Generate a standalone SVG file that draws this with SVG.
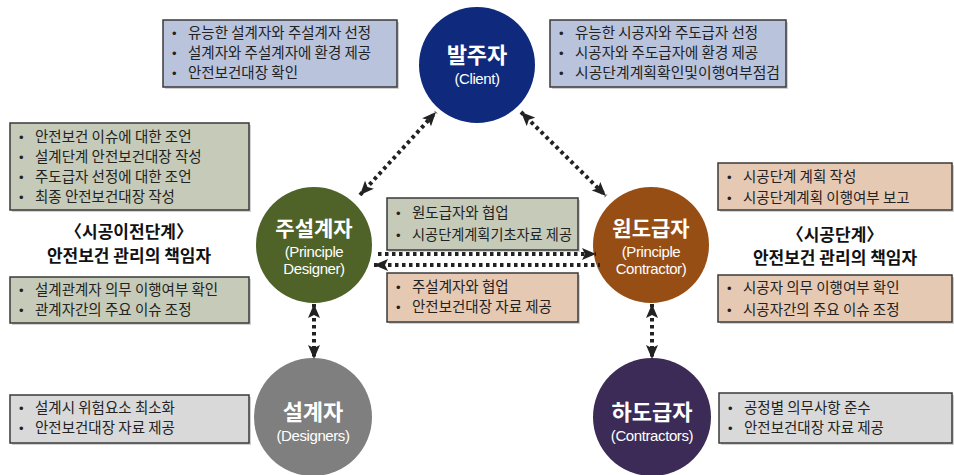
<svg xmlns="http://www.w3.org/2000/svg" width="954" height="475" viewBox="0 0 954 475">
<defs>
<style>
.box{stroke:#3a3a3a;stroke-width:1.5}
.sh{fill:#9a9a9a;opacity:0.45}
.blue{fill:#b9c3dc}
.green{fill:#c5cbb8}
.tan{fill:#e6c9b3}
.gray{fill:#d9d9d9}
.t{font-family:"Noto Sans CJK KR","Noto Sans",sans-serif;font-size:14.5px;fill:#222}
.bul{font-family:"Liberation Sans",sans-serif;font-size:13px;fill:#222}
.h{font-family:"Noto Sans CJK KR","Noto Sans",sans-serif;font-size:17px;font-weight:bold;fill:#111;text-anchor:middle}
.ck{font-family:"Noto Sans CJK KR","Noto Sans",sans-serif;font-size:22px;font-weight:bold;fill:#fff;text-anchor:middle}
.ck2{font-family:"Noto Sans CJK KR","Noto Sans",sans-serif;font-size:21px;font-weight:bold;fill:#fff;text-anchor:middle}
.ce{font-family:"Liberation Sans","Arial",sans-serif;font-size:15px;fill:#fff;text-anchor:middle;letter-spacing:-0.4px}
.con{fill:none;stroke:#222;stroke-width:4;stroke-dasharray:3.5 3.5}
</style>
<marker id="ah" viewBox="0 0 14 12" refX="14" refY="6" markerWidth="14" markerHeight="12" markerUnits="userSpaceOnUse" orient="auto-start-reverse">
<path d="M0,0 L14,6 L0,12 L3,6 Z" fill="#222"/>
</marker>
</defs>

<!-- boxes -->
<g id="box-client-left">
<rect class="sh" x="165" y="22" width="234" height="67"/>
<rect class="box blue" x="163" y="20" width="234" height="67"/>
<text class="bul" x="172" y="38">•</text><text class="t" x="188" y="38">유능한 설계자와 주설계자 선정</text>
<text class="bul" x="172" y="58">•</text><text class="t" x="188" y="58">설계자와 주설계자에 환경 제공</text>
<text class="bul" x="172" y="78">•</text><text class="t" x="188" y="78">안전보건대장 확인</text>
</g>
<g id="box-client-right">
<rect class="sh" x="552" y="22" width="236" height="67"/>
<rect class="box blue" x="550" y="20" width="236" height="67"/>
<text class="bul" x="559" y="38">•</text><text class="t" x="575" y="38">유능한 시공자와 주도급자 선정</text>
<text class="bul" x="559" y="58">•</text><text class="t" x="575" y="58">시공자와 주도급자에 환경 제공</text>
<text class="bul" x="559" y="78">•</text><text class="t" x="575" y="78" textLength="205" lengthAdjust="spacingAndGlyphs">시공단계계획확인및이행여부점검</text>
</g>
<g id="box-pd-top">
<rect class="sh" x="12" y="125" width="239" height="87"/>
<rect class="box green" x="10" y="123" width="239" height="87"/>
<text class="bul" x="19" y="142">•</text><text class="t" x="35" y="142">안전보건 이슈에 대한 조언</text>
<text class="bul" x="19" y="162">•</text><text class="t" x="35" y="162">설계단계 안전보건대장 작성</text>
<text class="bul" x="19" y="182">•</text><text class="t" x="35" y="182">주도급자 선정에 대한 조언</text>
<text class="bul" x="19" y="202">•</text><text class="t" x="35" y="202">최종 안전보건대장 작성</text>
</g>
<g id="heading-left">
<text class="h" x="129" y="238">〈시공이전단계〉</text>
<text class="h" x="129" y="262">안전보건 관리의 책임자</text>
</g>
<g id="box-pd-bottom">
<rect class="sh" x="12" y="279" width="239" height="46"/>
<rect class="box green" x="10" y="277" width="239" height="46"/>
<text class="bul" x="19" y="295">•</text><text class="t" x="35" y="295">설계관계자 의무 이행여부 확인</text>
<text class="bul" x="19" y="315">•</text><text class="t" x="35" y="315">관계자간의 주요 이슈 조정</text>
</g>
<g id="box-mid-top">
<rect class="sh" x="389" y="200" width="191" height="52"/>
<rect class="box green" x="387" y="198" width="191" height="52"/>
<text class="bul" x="396" y="218">•</text><text class="t" x="412" y="218">원도급자와 협업</text>
<text class="bul" x="396" y="240">•</text><text class="t" x="412" y="240" textLength="160" lengthAdjust="spacingAndGlyphs">시공단계계획기초자료 제공</text>
</g>
<g id="box-mid-bottom">
<rect class="sh" x="389" y="275" width="191" height="49"/>
<rect class="box tan" x="387" y="273" width="191" height="49"/>
<text class="bul" x="396" y="292">•</text><text class="t" x="412" y="292">주설계자와 협업</text>
<text class="bul" x="396" y="312">•</text><text class="t" x="412" y="312">안전보건대장 자료 제공</text>
</g>
<g id="box-pc-top">
<rect class="sh" x="720" y="165" width="234" height="47"/>
<rect class="box tan" x="718" y="163" width="234" height="47"/>
<text class="bul" x="727" y="182">•</text><text class="t" x="743" y="182">시공단계 계획 작성</text>
<text class="bul" x="727" y="203">•</text><text class="t" x="743" y="203">시공단계계획 이행여부 보고</text>
</g>
<g id="heading-right">
<text class="h" x="835" y="241">〈시공단계〉</text>
<text class="h" x="835" y="264">안전보건 관리의 책임자</text>
</g>
<g id="box-pc-bottom">
<rect class="sh" x="720" y="277" width="234" height="47"/>
<rect class="box tan" x="718" y="275" width="234" height="47"/>
<text class="bul" x="727" y="293">•</text><text class="t" x="743" y="293">시공자 의무 이행여부 확인</text>
<text class="bul" x="727" y="315">•</text><text class="t" x="743" y="315">시공자간의 주요 이슈 조정</text>
</g>
<g id="box-designers">
<rect class="sh" x="12" y="397" width="239" height="48"/>
<rect class="box gray" x="10" y="395" width="239" height="48"/>
<text class="bul" x="19" y="413">•</text><text class="t" x="35" y="413">설계시 위험요소 최소화</text>
<text class="bul" x="19" y="433">•</text><text class="t" x="35" y="433">안전보건대장 자료 제공</text>
</g>
<g id="box-contractors">
<rect class="sh" x="721" y="395" width="233" height="50"/>
<rect class="box gray" x="719" y="393" width="233" height="50"/>
<text class="bul" x="728" y="413">•</text><text class="t" x="744" y="413">공정별 의무사항 준수</text>
<text class="bul" x="728" y="433">•</text><text class="t" x="744" y="433">안전보건대장 자료 제공</text>
</g>

<!-- circles -->
<g id="client">
<circle cx="477" cy="65" r="58" fill="#0f2a7c"/>
<text class="ck" x="477" y="63">발주자</text>
<text class="ce" x="477" y="84">(Client)</text>
</g>
<g id="principle-designer">
<circle cx="314" cy="245" r="58" fill="#4f6228"/>
<text class="ck2" x="314" y="236">주설계자</text>
<text class="ce" x="314" y="257">(Principle</text>
<text class="ce" x="314" y="274">Designer)</text>
</g>
<g id="principle-contractor">
<circle cx="651" cy="245" r="58" fill="#974e14"/>
<text class="ck2" x="651" y="236">원도급자</text>
<text class="ce" x="651" y="257">(Principle</text>
<text class="ce" x="651" y="274">Contractor)</text>
</g>
<g id="designers">
<circle cx="313" cy="417" r="59" fill="#7f7f7f"/>
<text class="ck" x="313" y="420">설계자</text>
<text class="ce" x="313" y="441">(Designers)</text>
</g>
<g id="contractors">
<circle cx="652" cy="417" r="59" fill="#3b2b56"/>
<text class="ck" x="652" y="420">하도급자</text>
<text class="ce" x="652" y="441">(Contractors)</text>
</g>

<!-- connectors -->
<g id="connectors">
<line class="con" x1="360" y1="195" x2="436" y2="112" marker-start="url(#ah)" marker-end="url(#ah)"/>
<line class="con" x1="521" y1="112" x2="606" y2="196" marker-start="url(#ah)" marker-end="url(#ah)"/>
<line class="con" x1="314" y1="304" x2="314" y2="359" marker-start="url(#ah)" marker-end="url(#ah)"/>
<line class="con" x1="652" y1="304" x2="652" y2="359" marker-start="url(#ah)" marker-end="url(#ah)"/>
<line class="con" x1="378" y1="254" x2="596" y2="254" marker-end="url(#ah)"/>
<line class="con" x1="374" y1="265" x2="600" y2="265" marker-start="url(#ah)"/>
</g>
</svg>
